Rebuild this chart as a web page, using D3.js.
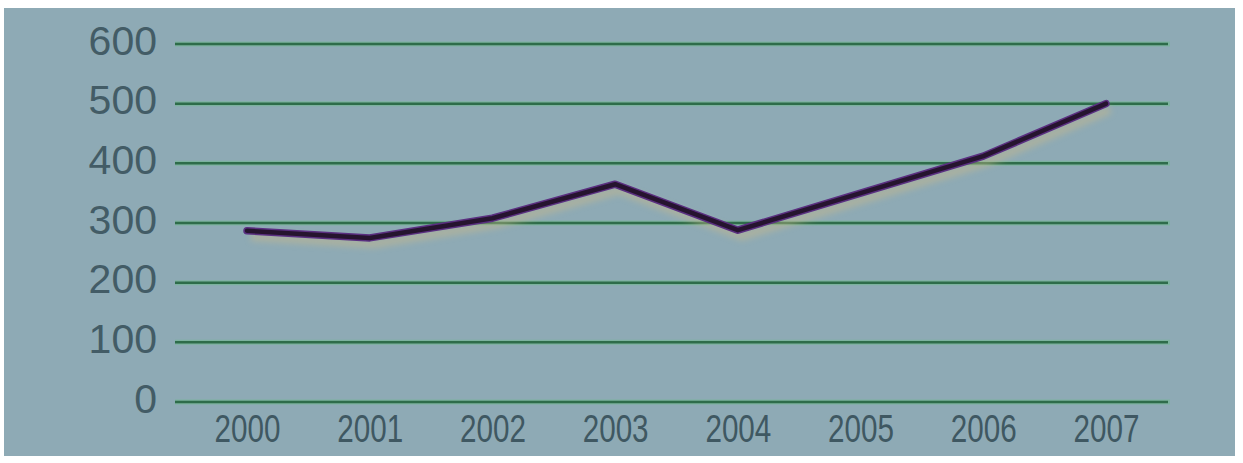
<!DOCTYPE html>
<html><head><meta charset="utf-8">
<script src="https://cdn.jsdelivr.net/npm/d3@7"></script>
<style>html,body{margin:0;padding:0;background:#fff;}svg{display:block;}</style>
</head><body>
<svg id="c" width="1243" height="463"></svg>
<script>
const years = ["2000","2001","2002","2003","2004","2005","2006","2007"];
const values = [287, 275, 308, 365, 288, 350, 412, 500];
const yTicks = [0, 100, 200, 300, 400, 500, 600];

const svg = d3.select("#c");
const W = 1243, H = 463;

svg.append("rect").attr("x", 4).attr("y", 8).attr("width", W - 12).attr("height", H - 15)
  .attr("fill", "#8eaab5");

const defs = svg.append("defs");
const f = defs.append("filter").attr("id", "sh").attr("x", "-10%").attr("y", "-50%").attr("width", "120%").attr("height", "200%");
f.append("feGaussianBlur").attr("stdDeviation", 3);

const x = d3.scalePoint().domain(years).range([247, 1106]);
const y = d3.scaleLinear().domain([0, 600]).range([402, 44]);

// gridlines
const grid = svg.append("g");
grid.selectAll("line.g1").data(yTicks).join("line")
  .attr("x1", 175).attr("x2", 1170)
  .attr("y1", d => y(d)).attr("y2", d => y(d))
  .attr("stroke", "#6cba88").attr("stroke-width", 5).attr("opacity", 0.5);
grid.selectAll("line.g2").data(yTicks).join("line")
  .attr("x1", 175).attr("x2", 1168)
  .attr("y1", d => y(d)).attr("y2", d => y(d))
  .attr("stroke", "#2e6c4a").attr("stroke-width", 2.5);

// y labels
const yAxis = d3.axisLeft(y).tickValues(yTicks).tickSize(0).tickPadding(0);
const ya = svg.append("g").attr("transform", "translate(157,-3)").call(yAxis);
ya.select(".domain").remove();
ya.selectAll("text").attr("fill", "#435c66").attr("font-family", "Liberation Sans, Arial, sans-serif")
  .attr("font-size", 41);

// x labels
const xAxis = d3.axisBottom(x).tickSize(0).tickPadding(0);
const xa = svg.append("g").attr("transform", "translate(0,420)").call(xAxis);
xa.select(".domain").remove();
xa.selectAll(".tick text").attr("fill", "#3f5862")
  .attr("font-family", "Liberation Sans, Arial, sans-serif")
  .attr("font-size", 38).attr("dy", "0.58em")
  .attr("transform", "scale(0.78,1)");

const line = d3.line().x((d, i) => x(years[i])).y(d => y(d));

// shadow
svg.append("path").datum(values).attr("d", line)
  .attr("transform", "translate(4,6)")
  .attr("fill", "none").attr("stroke", "#c9b98a").attr("stroke-width", 8)
  .attr("opacity", 0.5).attr("filter", "url(#sh)");
svg.append("path").datum(values).attr("d", line)
  .attr("fill", "none").attr("stroke", "#5a2f80").attr("stroke-width", 7.5)
  .attr("stroke-linejoin", "round").attr("stroke-linecap", "round");
svg.append("path").datum(values).attr("d", line)
  .attr("fill", "none").attr("stroke", "#26142f").attr("stroke-width", 4.5)
  .attr("stroke-linejoin", "round").attr("stroke-linecap", "round");
</script>
</body></html>
